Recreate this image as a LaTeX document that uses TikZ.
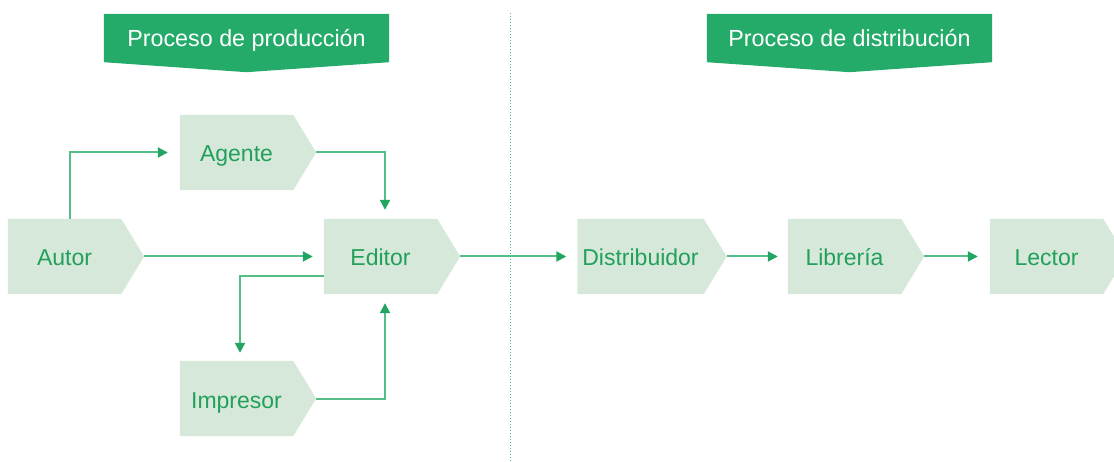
\documentclass[tikz,border=0pt]{standalone}
\usepackage{fontspec}
\setmainfont{Liberation Sans}
\usetikzlibrary{arrows.meta}
\definecolor{bannergreen}{RGB}{36,171,106}
\definecolor{boxfill}{RGB}{213,232,218}
\definecolor{textgreen}{RGB}{34,160,90}
\definecolor{linegreen}{RGB}{84,190,134}
\definecolor{tipgreen}{RGB}{34,165,96}
\pgfdeclarelayer{bg}
\pgfsetlayers{bg,main}
\tikzset{
  stagebox/.style={minimum width=113pt, minimum height=75pt, inner sep=0pt,
    text height=19pt, text depth=0pt,
    text=textgreen, font=\fontsize{23}{27}\selectfont},
  bannerbox/.style={minimum width=285pt, minimum height=48pt, inner sep=0pt,
    text height=17.4pt, text depth=0pt,
    text=white, font=\fontsize{23.3}{27}\selectfont},
  flow/.style={draw=linegreen, line width=2pt,
    -{Triangle[length=10pt,width=10pt,color=tipgreen]}},
}
% pentagon behind a stage node: flat body plus a point to the east
\newcommand\stageshape[1]{%
  \begin{pgfonlayer}{bg}
    \fill[boxfill] (#1.north west) -- (#1.north east) -- ([xshift=23pt]#1.east)
      -- (#1.south east) -- (#1.south west) -- cycle;
  \end{pgfonlayer}}
% banner with a shallow downward point
\newcommand\bannershape[1]{%
  \begin{pgfonlayer}{bg}
    \fill[bannergreen] (#1.north west) -- (#1.north east) -- (#1.south east)
      -- ([yshift=-10pt]#1.south) -- (#1.south west) -- cycle;
  \end{pgfonlayer}}
\begin{document}
\begin{tikzpicture}[x=1pt, y=-1pt]
  \useasboundingbox (0,0) rectangle (1114,462);
  \clip (0,0) rectangle (1114,462);

  % section headers
  \node[bannerbox] (prod) at (246.5,38) {Proceso de producción};
  \bannershape{prod}
  \node[bannerbox] (dist) at (849.5,38) {Proceso de distribución};
  \bannershape{dist}

  % divider
  \coordinate (divtop) at (510,13);
  \coordinate (divbot) at (510,462);
  \draw[linegreen, line width=1pt, dash pattern=on 1pt off 2pt] (divtop) -- (divbot);

  % stages
  \node[stagebox] (autor) at (64.5,256.5) {Autor};
  \stageshape{autor}
  \node[stagebox] (agente) at (236.5,152.5) {Agente};
  \stageshape{agente}
  \node[stagebox] (editor) at (380.5,256.5) {Editor};
  \stageshape{editor}
  \node[stagebox] (impresor) at (236.5,398.5) {Impresor};
  \stageshape{impresor}
  \node[stagebox, minimum width=126pt] (distribuidor) at (640.5,256.5) {Distribuidor};
  \stageshape{distribuidor}
  \node[stagebox] (libreria) at (844.5,256.5) {Librería};
  \stageshape{libreria}
  \node[stagebox] (lector) at (1046.5,256.5) {Lector};
  \stageshape{lector}

  % connectors
  \draw[flow] (70,0 |- autor.north) |- ([xshift=-12pt]agente.west);
  \draw[flow] ([xshift=23pt]agente.east) -| ([xshift=4.5pt,yshift=9pt]editor.north);
  \draw[flow] ([xshift=23pt]autor.east) -- ([xshift=-11pt]editor.west);
  \draw[flow] ([yshift=-19.5pt]editor.west) -| ([xshift=3.5pt,yshift=8pt]impresor.north);
  \draw[flow] ([xshift=23pt]impresor.east) -| ([xshift=4.5pt,yshift=-9pt]editor.south);
  \draw[flow] ([xshift=23pt]editor.east) -- ([xshift=-11pt]distribuidor.west);
  \draw[flow] ([xshift=23pt]distribuidor.east) -- ([xshift=-10pt]libreria.west);
  \draw[flow] ([xshift=23pt]libreria.east) -- ([xshift=-12pt]lector.west);
\end{tikzpicture}
\end{document}
